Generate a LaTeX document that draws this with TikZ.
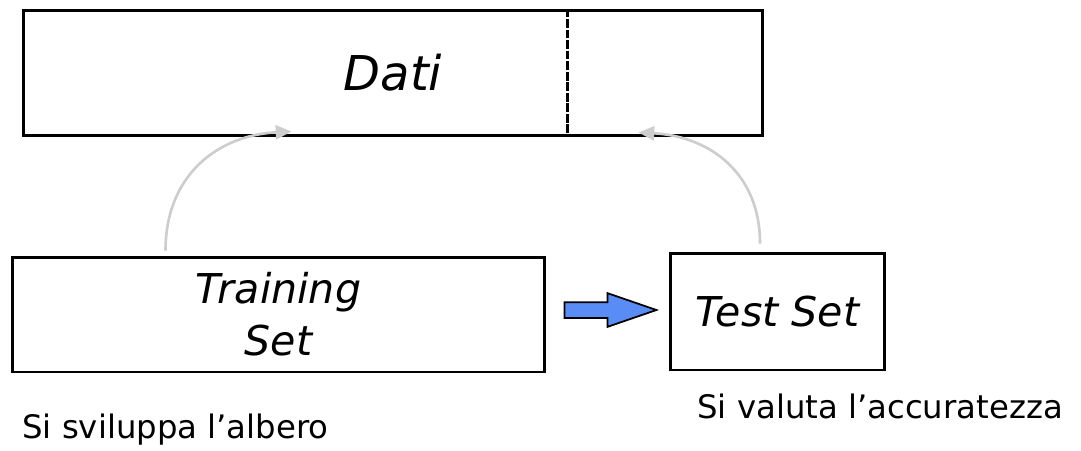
\documentclass[tikz,border=0pt]{standalone}
\usepackage{fontspec}
\setmainfont{DejaVu Sans}
\usetikzlibrary{shapes.arrows,arrows.meta}

\definecolor{arrowblue}{RGB}{90,140,246}
\definecolor{flowgray}{RGB}{205,205,205}

\tikzset{
  databox/.style={draw, line width=1.7pt, inner sep=0pt},
  boxtext/.style={font=\itshape\fontsize{23.4}{29.6}\selectfont, align=center},
  flowcurve/.style={draw=flowgray, line width=1.5pt, -{Triangle[length=9pt,width=8pt]}},
  fatarrow/.style={single arrow, draw, line width=1pt, fill=arrowblue,
    inner xsep=0pt, inner ysep=0.14cm,
    minimum height=1.84cm, minimum width=0.64cm, single arrow head extend=0.18cm,
    single arrow tip angle=38, single arrow head indent=0pt},
  note/.style={font=\fontsize{18.4}{22}\selectfont, anchor=base west, inner sep=0pt}
}

\begin{document}
\begin{tikzpicture}[x=0.02cm, y=-0.02cm]
  \useasboundingbox (0,0) rectangle (1081,450);

  % the whole data set, split in two parts
  \node[databox, minimum width=14.8cm, minimum height=2.52cm,
        font=\itshape\fontsize{27.3}{32}\selectfont] (dati) at (393,73) {Dati};
  \draw[line width=1.3pt, dash pattern=on 5pt off 1pt]
    ([xshift=10.92cm]dati.north west) -- ([xshift=10.92cm]dati.south west);

  \node[databox, boxtext, minimum width=10.66cm, minimum height=2.3cm] (training) at (278.5,314.5) {Training\\Set};
  \node[databox, boxtext, minimum width=4.3cm, minimum height=2.34cm] (test) at (777.5,311.5) {Test Set};

  \node[fatarrow] (step) at (599,310) {};

  % where each part comes from
  \coordinate (trainfrom) at ([xshift=3.1cm, yshift=0.1cm]training.north west);
  \coordinate (trainto) at ([xshift=5.4cm, yshift=0.12cm]dati.south west);
  \coordinate (testfrom) at ([xshift=-0.35cm, yshift=0.16cm]test.north);
  \coordinate (testto) at ([xshift=12.34cm, yshift=0.1cm]dati.south west);
  \draw[flowcurve] (trainfrom) to[out=90, in=183, looseness=1.1] (trainto);
  \draw[flowcurve] (testfrom) to[out=90, in=-3, looseness=1.1] (testto);

  \node[note] (grow) at (22,438) {Si sviluppa l’albero};
  \node[note] (eval) at (697,418) {Si valuta l’accuratezza};
\end{tikzpicture}
\end{document}
